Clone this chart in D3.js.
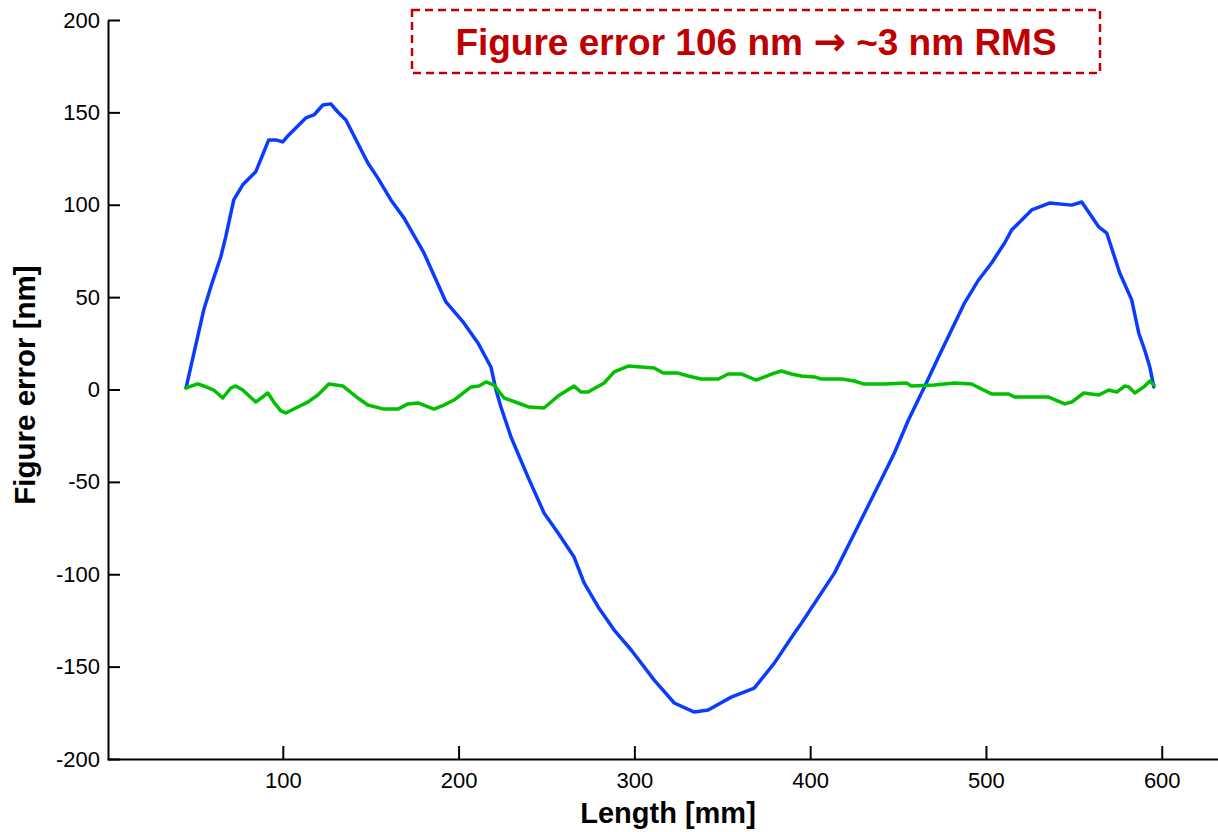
<!DOCTYPE html>
<html>
<head>
<meta charset="utf-8">
<script src="https://cdn.jsdelivr.net/npm/d3@7"></script>
<style>
  html, body { margin: 0; padding: 0; background: #fff; }
  svg { display: block; font-family: "Liberation Sans", Arial, sans-serif; }
</style>
</head>
<body>
<svg id="chart" width="1218" height="832"></svg>
<script>
// ---- data ----
const beforeX = [45,55,59,64.7,67.5,72.1,77.2,84.6,92,96,100,103.4,113.1,117.7,122.8,127.3,131.3,135.9,148.4,154.1,161.5,168.9,180.3,192.8,203,211,218.4,221.3,224.1,229.8,239.5,248.6,256.6,265.7,271.4,279.4,288.5,298.2,311.3,322.7,334.1,342,355.1,368.2,379.6,391,395,413.8,425.2,442.3,447.9,455.9,465,473,480.4,487.8,495.8,503.2,510.6,514.6,526,536.2,548.8,554.5,564.2,568.7,576.1,582.9,586.9,590.3,593.2,595.5];
const beforeY = [1,43,55.4,71.7,82.5,102.6,110.8,117.8,135.1,135.1,134,137.8,147,148.6,154,154.6,150.2,145.9,122.6,114.4,102.6,92.9,73.9,47.4,36,25.2,12.2,-0.3,-9.5,-25.7,-47.4,-66.8,-77.7,-90.7,-104.7,-117.7,-130.2,-141,-157.3,-169.7,-174.6,-173.5,-166.5,-161.6,-148.1,-131.9,-126.5,-99.4,-77.8,-45.2,-34.4,-16.5,1.4,17.6,32.2,46.8,59.3,68.5,79.3,86.3,97.2,100.9,99.8,101.5,88,84.7,63.1,48.5,30.6,21.4,12.2,1.4];

const afterX = [44.8,51.6,55,60.7,65.8,70.4,73.2,77.2,84.6,91.5,94.9,98.9,101.7,107.4,114.2,119.9,126.2,134.1,142.7,148.4,157.5,165.5,171.2,176.9,186,191.7,197.4,207.1,211.6,215.6,220.2,225.9,233.8,240.1,248.6,256.6,265.7,269.7,273.7,282.8,288.5,296.5,311.3,316.4,324.9,330.6,338,347.7,353.4,360.8,369.3,379.6,383.6,389.3,395,402.4,406.4,417.8,425.2,430.3,442.3,454.8,457.6,470.7,482.1,491.8,497.5,503.2,512.9,516.3,527.7,535.7,544.8,548.8,555.6,564.2,569.9,574.4,579,581.3,584.7,589.8,593.2,595.5];
const afterY = [0.8,3,1.9,-0.3,-4.6,0.8,1.9,-0.3,-6.8,-1.9,-6.8,-11.6,-12.7,-10,-6.8,-3,3,1.9,-4.6,-8.4,-10.6,-10.6,-7.8,-7.3,-10.6,-8.4,-5.7,1.4,1.9,4.1,2.4,-4.6,-7.3,-9.5,-10,-3.5,1.9,-1.4,-1.4,3.5,9.5,12.7,11.6,8.9,8.9,7.3,5.7,5.7,8.4,8.4,5.1,8.9,10,8.4,7.3,6.8,5.7,5.7,4.6,3,3,3.5,1.9,2.4,3.5,3,0.3,-2.4,-2.4,-4.1,-4.1,-4.1,-7.8,-6.8,-1.9,-3,-0.3,-1.4,1.9,1.4,-1.9,1.4,4.6,2.4];

const xTicks = [100,200,300,400,500,600];
const yTicks = [-200,-150,-100,-50,0,50,100,150,200];
const xLabel = "Length [mm]";
const yLabel = "Figure error [nm]";
const titleA = "Figure error 106 nm ";
const titleArrow = "\u2192";
const titleB = " ~3 nm RMS";

// ---- chart ----
const svg = d3.select("#chart");
const x = d3.scaleLinear().domain([0, 632]).range([107, 1218]);
const y = d3.scaleLinear().domain([-200, 200]).range([759, 20]);
const fmt = d => String(d);

const xAxis = svg.append("g")
  .attr("transform", "translate(0,759)")
  .call(d3.axisBottom(x).tickValues(xTicks).tickSizeInner(-13).tickSizeOuter(0).tickPadding(13).tickFormat(fmt));
const yAxis = svg.append("g")
  .attr("transform", "translate(108,0)")
  .call(d3.axisLeft(y).tickValues(yTicks).tickSizeInner(-12).tickSizeOuter(0).tickPadding(8).tickFormat(fmt));

[xAxis, yAxis].forEach(g => {
  g.selectAll("path.domain").attr("stroke", "#000").attr("stroke-width", 2);
  g.selectAll(".tick line").attr("stroke", "#000").attr("stroke-width", 2);
  g.selectAll(".tick text").attr("fill", "#000")
    .style("font-family", '"Liberation Sans", Arial, sans-serif')
    .style("font-size", "22px");
});

const line = d3.line().x(d => x(d[0])).y(d => y(d[1]));
const beforeData = beforeX.map((v, i) => [v, beforeY[i]]);
const afterData = afterX.map((v, i) => [v, afterY[i]]);

svg.append("path").datum(beforeData)
  .attr("d", line).attr("fill", "none")
  .attr("stroke", "#0a3cff").attr("stroke-width", 3.5)
  .attr("stroke-linejoin", "round").attr("stroke-linecap", "round");
svg.append("path").datum(afterData)
  .attr("d", line).attr("fill", "none")
  .attr("stroke", "#00c000").attr("stroke-width", 3.5)
  .attr("stroke-linejoin", "round").attr("stroke-linecap", "round");

// axis labels
svg.append("text")
  .attr("x", 668).attr("y", 823)
  .attr("text-anchor", "middle")
  .style("font-size", "29px").style("font-weight", "bold")
  .text(xLabel);
svg.append("text")
  .attr("transform", "translate(35,385) rotate(-90)")
  .attr("text-anchor", "middle")
  .style("font-size", "29.5px").style("font-weight", "bold")
  .text(yLabel);

// title box
svg.append("rect")
  .attr("x", 412).attr("y", 10).attr("width", 688).attr("height", 63)
  .attr("fill", "none").attr("stroke", "#c00000")
  .attr("stroke-width", 2.5).attr("stroke-dasharray", "8,5");
const t = svg.append("text")
  .attr("x", 756).attr("y", 55)
  .attr("text-anchor", "middle")
  .attr("fill", "#c00000")
  .style("font-size", "37px").style("font-weight", "bold");
t.append("tspan").text(titleA);
t.append("tspan").style("font-family", '"DejaVu Sans", sans-serif').style("font-size", "39px").text(titleArrow);
t.append("tspan").text(titleB);
</script>
</body>
</html>
